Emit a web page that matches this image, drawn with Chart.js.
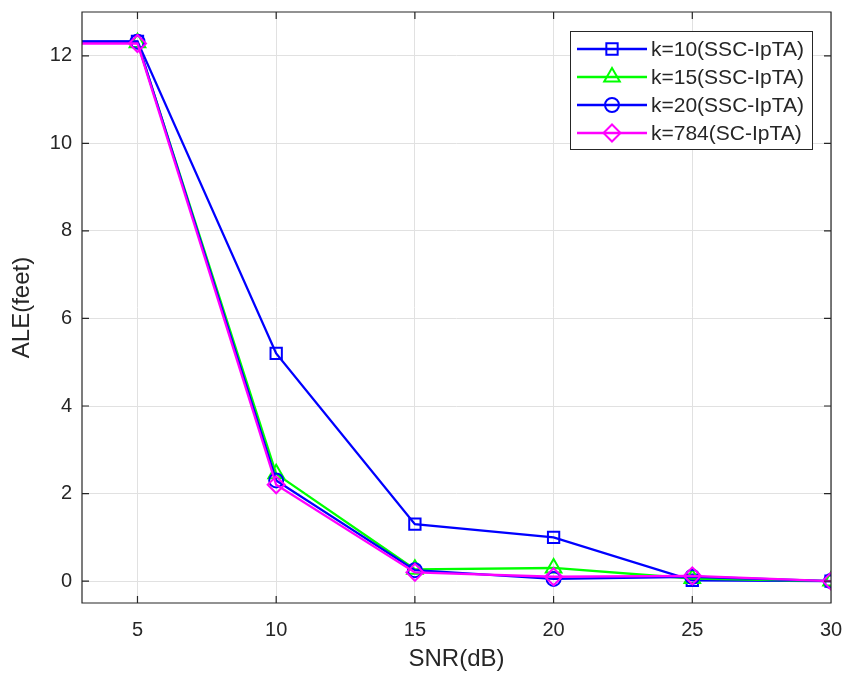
<!DOCTYPE html>
<html>
<head>
<meta charset="utf-8">
<script src="https://cdn.jsdelivr.net/npm/chart.js@4.4.1/dist/chart.umd.min.js"></script>
<style>
html,body{margin:0;padding:0;background:#fff;}
#wrap{width:858px;height:675px;}
</style>
</head>
<body>
<div id="wrap"><canvas id="c" width="858" height="675"></canvas></div>
<script>
// ---- data ----
const snr = [0, 5, 10, 15, 20, 25, 30];
const k10  = [12.33, 12.33, 5.2, 1.3, 1.0, 0.02, 0.0];
const k15  = [12.30, 12.30, 2.45, 0.27, 0.3, 0.06, 0.0];
const k20  = [12.32, 12.32, 2.3, 0.25, 0.05, 0.1, 0.0];
const k784 = [12.28, 12.28, 2.2, 0.2, 0.1, 0.12, 0.0];
const seriesLabels = ['k=10(SSC-IpTA)', 'k=15(SSC-IpTA)', 'k=20(SSC-IpTA)', 'k=784(SC-IpTA)'];
const xTicks = [5, 10, 15, 20, 25, 30];
const yTicks = [0, 2, 4, 6, 8, 10, 12];
const xTitle = 'SNR(dB)';
const yTitle = 'ALE(feet)';

const FONT = '"Liberation Sans", Arial, Helvetica, sans-serif';
const TXT = '#262626';

function pts(vals){ return snr.map((x,i)=>({x:x, y:vals[i]})); }

const styles = [
  {color:'#0000ff', style:'rect', r:8, order:3},
  {color:'#00ff00', style:'triangle', r:9, order:2},
  {color:'#0000ff', style:'circle', r:7, order:1},
  {color:'#ff00ff', style:'rectRot', r:8.5, order:0}
];
const allVals = [k10, k15, k20, k784];

const datasets = allVals.map((v,i)=>({
  label: seriesLabels[i],
  data: pts(v),
  borderColor: styles[i].color,
  backgroundColor: 'rgba(0,0,0,0)',
  borderWidth: 2.3,
  pointStyle: styles[i].style,
  pointRadius: styles[i].r,
  pointBorderWidth: 2,
  pointBorderColor: styles[i].color,
  pointBackgroundColor: 'rgba(0,0,0,0)',
  tension: 0,
  order: styles[i].order
}));

const boxPlugin = {
  id: 'boxPlugin',
  afterDatasetsDraw(chart){
    const ctx = chart.ctx;
    const a = chart.chartArea;
    const xs = chart.scales.x, ys = chart.scales.y;
    ctx.save();
    ctx.strokeStyle = TXT;
    ctx.lineWidth = 1.2;
    ctx.beginPath();
    ctx.rect(a.left, a.top, a.right - a.left, a.bottom - a.top);
    const tl = 7;
    xTicks.forEach(t=>{
      const px = xs.getPixelForValue(t);
      ctx.moveTo(px, a.bottom); ctx.lineTo(px, a.bottom - tl);
      ctx.moveTo(px, a.top); ctx.lineTo(px, a.top + tl);
    });
    yTicks.forEach(t=>{
      const py = ys.getPixelForValue(t);
      ctx.moveTo(a.left, py); ctx.lineTo(a.left + tl, py);
      ctx.moveTo(a.right, py); ctx.lineTo(a.right - tl, py);
    });
    ctx.stroke();

    // legend
    const lx0 = 570, ly0 = 31, lx1 = 812, ly1 = 149;
    ctx.fillStyle = '#ffffff';
    ctx.fillRect(lx0, ly0, lx1 - lx0, ly1 - ly0);
    ctx.strokeStyle = TXT;
    ctx.lineWidth = 1;
    ctx.strokeRect(lx0 + 0.5, ly0 + 0.5, lx1 - lx0, ly1 - ly0);
    ctx.font = '21px ' + FONT;
    ctx.textBaseline = 'middle';
    ctx.textAlign = 'left';
    chart.data.datasets.forEach((ds, i)=>{
      const cy = 49 + i * 28;
      ctx.strokeStyle = ds.borderColor;
      ctx.lineWidth = 2.3;
      ctx.beginPath();
      ctx.moveTo(577, cy); ctx.lineTo(647, cy);
      ctx.stroke();
      ctx.lineWidth = ds.pointBorderWidth;
      ctx.strokeStyle = ds.borderColor;
      ctx.fillStyle = 'rgba(0,0,0,0)';
      Chart.helpers.drawPoint(ctx, {pointStyle: ds.pointStyle, radius: ds.pointRadius, rotation: 0, borderWidth: ds.pointBorderWidth}, 612, cy);
      ctx.fillStyle = TXT;
      ctx.fillText(ds.label, 651, cy + 1);
    });
    ctx.restore();
  }
};

new Chart(document.getElementById('c'), {
  type: 'line',
  data: { datasets: datasets },
  plugins: [boxPlugin],
  options: {
    responsive: false,
    animation: false,
    devicePixelRatio: 1,
    layout: { padding: { left: 0, right: 27, top: 12, bottom: 0 } },
    plugins: { legend: { display: false }, tooltip: { enabled: false } },
    scales: {
      x: {
        type: 'linear', min: 3, max: 30,
        afterBuildTicks(s){ s.ticks = xTicks.map(v=>({value:v})); },
        afterFit(s){ s.height = 72; s.paddingLeft = 0; s.paddingRight = 0; },
        grid: { color: '#e1e1e1', lineWidth: 1, drawTicks: false },
        border: { display: false },
        ticks: { color: TXT, font: { family: FONT, size: 20 }, padding: 15, maxRotation: 0, autoSkip: false },
        title: { display: true, text: xTitle, color: TXT, font: { family: FONT, size: 24 }, padding: { top: 0, bottom: 1 } }
      },
      y: {
        type: 'linear', min: -0.5, max: 13,
        afterBuildTicks(s){ s.ticks = yTicks.map(v=>({value:v})); },
        afterFit(s){ s.width = 82; s.paddingTop = 0; s.paddingBottom = 0; },
        grid: { color: '#e1e1e1', lineWidth: 1, drawTicks: false },
        border: { display: false },
        ticks: { color: TXT, font: { family: FONT, size: 20 }, padding: 10, autoSkip: false },
        title: { display: true, text: yTitle, color: TXT, font: { family: FONT, size: 24 }, padding: { top: 8, bottom: 0 } }
      }
    }
  }
});
</script>
</body>
</html>
